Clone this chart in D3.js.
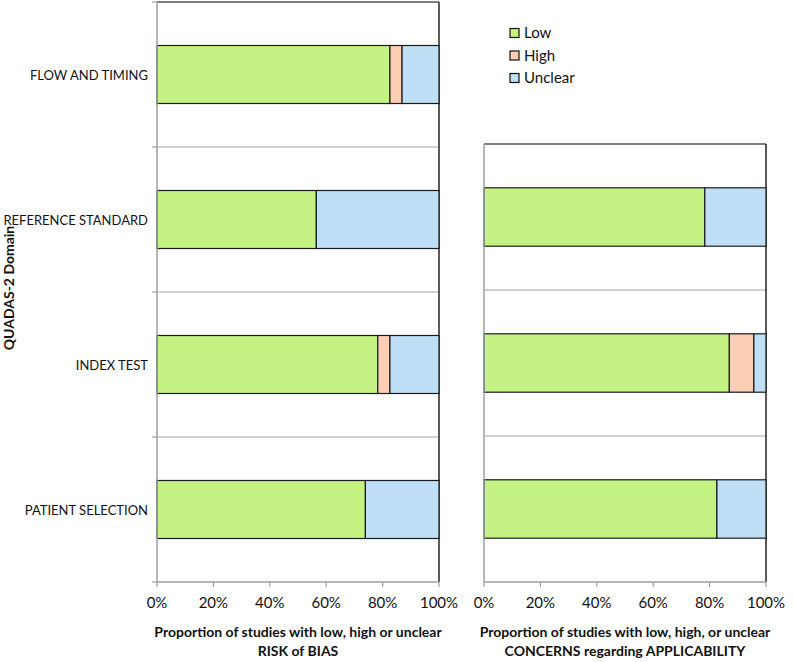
<!DOCTYPE html>
<html><head><meta charset="utf-8">
<script src="https://cdn.jsdelivr.net/npm/d3@7"></script>
<style>body{margin:0;background:#fff}svg{display:block}</style>
</head><body>
<svg id="c" width="794" height="662"></svg>
<script>
// ---- data (percent of 23 studies) ----
const seriesNames = ["Low", "High", "Unclear"];
const biasDomains = ["PATIENT SELECTION", "INDEX TEST", "REFERENCE STANDARD", "FLOW AND TIMING"];
const biasLow     = [73.9, 78.3, 56.5, 82.6];
const biasHigh    = [0.0, 4.3, 0.0, 4.3];
const biasUnclear = [26.1, 17.4, 43.5, 13.1];
const applDomains = ["PATIENT SELECTION", "INDEX TEST", "REFERENCE STANDARD"];
const applLow     = [82.6, 87.0, 78.3];
const applHigh    = [0.0, 8.7, 0.0];
const applUnclear = [17.4, 4.3, 21.7];
const xTicks = [0, 20, 40, 60, 80, 100];
const biasTitle = ["Proportion of studies with low, high or unclear", "RISK of BIAS"];
const applTitle = ["Proportion of studies with low, high, or unclear", "CONCERNS regarding APPLICABILITY"];
const yTitle = "QUADAS-2 Domain";

const colors = {Low: "#c4f384", High: "#fccfb4", Unclear: "#bfdff6"};
const font = "Lato, 'Open Sans', sans-serif";
const svg = d3.select("#c");

function panel(opts) {
  const {domains, low, high, unclear, x0, x1, yTop, yBot, showLabels, title} = opts;
  const x = d3.scaleLinear().domain([0, 100]).range([x0, x1]);
  const y = d3.scaleBand().domain(domains).range([yBot, yTop]).paddingInner(0.6).paddingOuter(0.3);
  const g = svg.append("g");
  const step = y.step();
  const bounds = d3.range(domains.length + 1).map(i => yBot - i * step);
  // gridlines
  g.selectAll("line.grid").data(bounds.slice(1, -1)).join("line")
    .attr("x1", x0).attr("x2", x1).attr("y1", d => d).attr("y2", d => d)
    .attr("stroke", "#a3a8a8").attr("stroke-width", 1.2);
  // frame top & right
  g.append("line").attr("x1", x0).attr("x2", x1).attr("y1", yTop).attr("y2", yTop)
    .attr("stroke", "#555").attr("stroke-width", 1.5);
  g.append("line").attr("x1", x1).attr("x2", x1).attr("y1", yTop).attr("y2", yBot)
    .attr("stroke", "#222").attr("stroke-width", 1.5);
  // stacked bars
  const rows = domains.map((d, i) => ({d, vals: [low[i], high[i], unclear[i]]}));
  rows.forEach(r => {
    let acc = 0;
    r.vals.forEach((v, k) => {
      if (v > 0) {
        g.append("rect").attr("x", x(acc)).attr("width", x(acc + v) - x(acc))
          .attr("y", y(r.d)).attr("height", y.bandwidth())
          .attr("fill", colors[seriesNames[k]]).attr("stroke", "#1a1a1a").attr("stroke-width", 1.2);
      }
      acc += v;
    });
  });
  // left axis
  g.append("line").attr("x1", x0).attr("x2", x0).attr("y1", yTop).attr("y2", yBot)
    .attr("stroke", "#9aa0a0").attr("stroke-width", 1.5);
  if (showLabels) {
    g.selectAll("line.yt").data(bounds).join("line")
      .attr("x1", x0 - 5).attr("x2", x0).attr("y1", d => d).attr("y2", d => d)
      .attr("stroke", "#9aa0a0").attr("stroke-width", 1.2);
    g.selectAll("text.cat").data(domains).join("text")
      .attr("x", x0 - 9).attr("y", d => y(d) + y.bandwidth() / 2 + 5)
      .attr("text-anchor", "end").attr("font-family", font).attr("font-size", 13)
      .attr("fill", "#111").text(d => d);
  }
  // bottom axis
  g.append("line").attr("x1", x0).attr("x2", x1).attr("y1", yBot).attr("y2", yBot)
    .attr("stroke", "#9aa0a0").attr("stroke-width", 1.5);
  g.selectAll("line.xt").data(xTicks).join("line")
    .attr("x1", d => x(d)).attr("x2", d => x(d)).attr("y1", yBot).attr("y2", yBot + 5)
    .attr("stroke", "#9aa0a0").attr("stroke-width", 1.2);
  g.selectAll("text.xl").data(xTicks).join("text")
    .attr("x", d => x(d)).attr("y", yBot + 26).attr("text-anchor", "middle")
    .attr("font-family", font).attr("font-size", 15).attr("fill", "#111").text(d => d + "%");
  // title
  const cx = (x0 + x1) / 2;
  title.forEach((t, i) => {
    g.append("text").attr("x", cx).attr("y", yBot + 55 + i * 19).attr("text-anchor", "middle")
      .attr("font-family", font).attr("font-weight", "bold").attr("font-size", 14)
      .attr("fill", "#111").text(t);
  });
}

panel({domains: biasDomains, low: biasLow, high: biasHigh, unclear: biasUnclear,
  x0: 157, x1: 439, yTop: 2, yBot: 582, showLabels: true, title: biasTitle});
panel({domains: applDomains, low: applLow, high: applHigh, unclear: applUnclear,
  x0: 484, x1: 766, yTop: 144, yBot: 582, showLabels: false, title: applTitle});

// y title
svg.append("text").attr("transform", "translate(14,288) rotate(-90)")
  .attr("text-anchor", "middle").attr("font-family", font).attr("font-weight", "bold")
  .attr("font-size", 14).attr("fill", "#111").text(yTitle);

// legend
const leg = svg.append("g").attr("transform", "translate(510,0)");
seriesNames.forEach((s, i) => {
  const cy = 33 + i * 22.5;
  leg.append("rect").attr("x", 0).attr("y", cy - 4.5).attr("width", 9).attr("height", 9)
    .attr("fill", colors[s]).attr("stroke", "#111").attr("stroke-width", 1.2);
  leg.append("text").attr("x", 14).attr("y", cy + 5).attr("font-family", font)
    .attr("font-size", 15).attr("fill", "#111").text(s);
});
</script>
</body></html>
